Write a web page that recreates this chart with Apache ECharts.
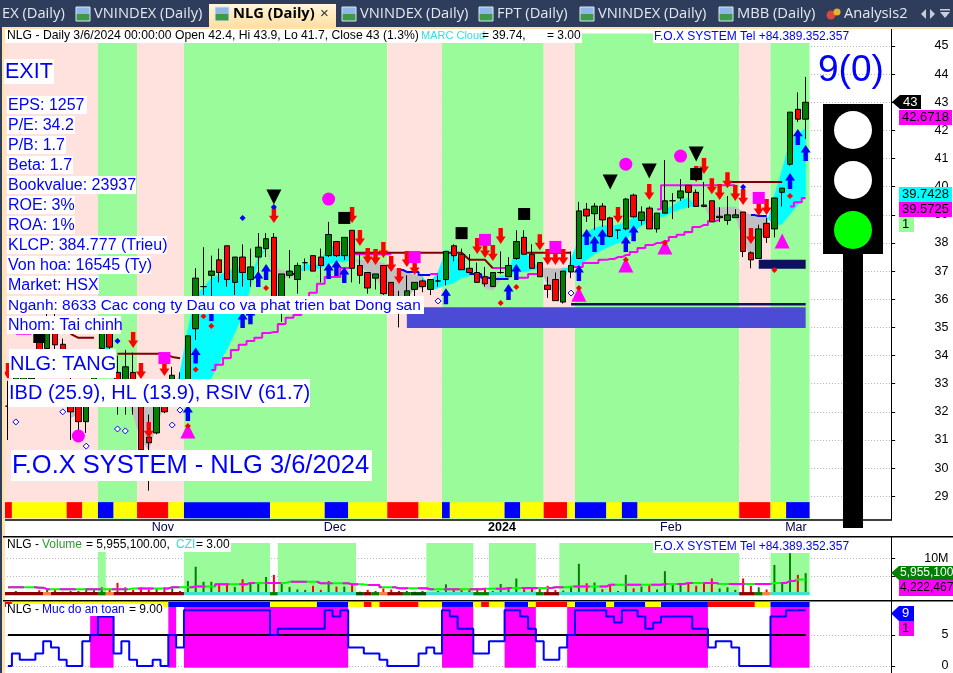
<!DOCTYPE html>
<html>
<head>
<meta charset="utf-8">
<style>html,body{margin:0;padding:0;background:#fff}#main{width:953px;height:673px}</style>
<script src="https://cdn.jsdelivr.net/npm/echarts@6/dist/echarts.min.js"></script>
</head>
<body>
<div id="main"></div>
<script>
// trading days per month, Oct 2023 to Mar 2024
var octDays = [6,9,10,11,12,13,16,17,18,19,20,23,24,25,26,27,30,31];
var novDays = [1,2,3,6,7,8,9,10,13,14,15,16,17,20,21,22,23,24,27,28,29,30];
var decDays = [1,4,5,6,7,8,11,12,13,14,15,18,19,20,21,22,25,26,27,28,29];
var janDays = [2,3,4,5,8,9,10,11,12,15,16,17,18,19,22,23,24,25,26,29,30,31];
var febDays = [1,2,5,6,7,15,16,19,20,21,22,23,26,27,28,29];
var marDays = [1,4,5,6];
var blankDays = ['','','','','','','','','','',''];
var monthLabels = {'11/1':'Nov','12/1':'Dec','1/2':'{b|2024}','2/1':'Feb','3/1':'Mar'};

var opens = [32.2,33,32.85,32.8,34.6,34.25,35.3,34.4,33,32.4,31.65,32.6,34.25,35.25,33.4,32.6,33.4,32.4,31.1,31.25,32.2,32.4,32.6,32.7,34.95,36.45,36.85,37.4,37.9,36.6,37.5,36.7,37.5,37.8,38.2,35.6,36.85,36.7,37.3,37.55,37.5,37.55,38.05,37.55,38.45,37.2,36.95,36.75,37.2,36.6,36,35.95,36.35,36.65,36.35,36.65,36.7,37.9,37.6,37.1,36.95,36.8,36.45,36.95,36.8,37.45,38.2,37.6,37.3,36.5,36.7,35.9,36.97,37.45,39.2,39.04,39.31,38.89,38.46,38.5,39.7,38.8,39.24,38.5,39.06,39.5,39.6,40.05,39.8,39.35,39.5,38.9,38.8,38.9,39.1,37.65,37.45,38.7,38.5,39.8,40.8,42.75,42.4];
var closes = [32.2,33.5,33.4,33.2,34.2,35.3,34.38,33.8,32,31.65,32.4,33.5,35.25,34.3,32.6,33.6,32.6,30.65,30.9,32.4,32,33.3,32.95,34.7,36.75,36.45,37,36.95,36.7,37.5,36.95,37.15,37.85,38.15,35.8,36.9,37,37.2,37.3,37,37.2,38.3,37.55,38.2,37.1,36.85,36.4,36.9,36.2,35.95,35.6,36.3,36.6,36.45,36.7,36.65,37.7,37.55,37.05,36.95,36.6,36.55,36.95,36.95,37.2,38.05,37.6,37.1,36.8,36.35,35.95,37,37.2,39.14,38.96,39.31,38.82,38.23,38.46,39.56,38.93,39.1,38.5,39.06,39.5,39.5,39.85,39.8,39.3,39.3,38.75,38.95,39,39,37.7,37.4,38.5,38.2,39.6,39.95,42.65,42.4,43];
var lows = [31,32.8,32.6,32.6,33.9,34,34.2,33.5,31,31.35,31.25,32.4,34,34.1,31.9,31.9,31.9,30.45,29.2,31.2,31.95,32.2,32.5,32.6,34.55,36.15,36,36.6,36.45,36.15,36.45,36.45,36.7,37.5,35.75,35.2,36.75,36.2,37,37,36.6,37.5,37.5,37.4,36.6,36.55,36.2,36.35,36.15,35.8,35,35.9,36.1,36.25,36.15,36.45,36.5,37.35,37.05,36.95,36.6,36.45,36.45,36.9,36.8,37.4,37.6,37.1,36.8,36.05,35.95,35.85,36.75,37.44,38.75,38.46,38.57,38.2,38.14,38.45,38.9,38.63,38.5,38.37,39.05,38.85,39.5,39.25,39.3,39.27,38.75,38.75,38.65,38.9,37.5,37.1,37.45,38,38.2,39.3,40.75,42.3,41.7];
var highs = [33.1,33.7,33.6,33.4,34.9,35.5,35.5,34.6,33.3,33,33,33.7,35.4,35.4,34,34.2,34.1,33,31.9,33,32.9,33.6,33.4,34.7,37.1,37.85,37.55,37.8,37.9,37.5,37.95,37.8,38.35,38.35,38.35,36.9,37.75,37.3,37.45,37.55,37.8,38.75,38.05,38.2,38.45,37.6,36.95,36.9,37.2,36.6,36.3,36.85,36.6,36.7,36.7,36.85,37.7,37.95,37.8,37.6,37.3,37.15,36.95,37.7,37.5,38.45,38.45,37.95,37.3,36.8,36.95,37,37.7,39.46,39.42,39.42,39.42,38.93,38.46,39.6,39.75,39.3,39.3,39.06,40.95,39.77,40.27,40.05,39.9,40.17,39.5,39.27,39.67,39.2,39.1,37.7,38.65,38.9,39.6,39.95,42.65,43.35,43.9];

// fast and slow edge of the MARC cloud, cyan where fast is above slow
var cloudFast = [null,null,null,null,null,null,null,null,31.78,31.92,null,null,35.26,34.91,null,32.6,31.88,31,30.64,31.53,32.24,32.49,33.42,34.91,36.15,36.4,36.76,36.86,36.97,37.11,37.04,36.79,37.47,37.86,37.04,36.79,36.76,36.86,37.33,37.11,37.33,37.97,37.75,37.68,37.47,37.22,36.97,36.76,36.33,36.12,35.98,35.98,36.4,36.4,36.62,36.97,37.75,37.64,37.22,36.94,36.76,36.4,36.33,36.69,36.97,37.82,37.75,37.33,37.11,36.51,36.08,36.51,37.47,38.11,38.39,38.53,38.61,38.61,38.64,38.75,38.89,38.96,38.96,39,39.18,39.32,39.53,39.6,39.32,39.32,38.82,38.85,38.89,38.96,38.11,37.47,37.93,38.64,39.67,40.6,41.66,41.84,42.09];
var cloudSlow = [null,null,null,null,null,null,null,null,32.42,32.42,null,null,34.27,34.2,null,32.78,32.6,32.6,32.6,32.6,32.6,32.6,33.13,32.78,32.78,32.95,33.2,33.74,34.23,34.8,35.44,36.44,37.33,37.82,37.11,37.04,36.97,36.97,37.04,37.04,37.11,37.25,37.33,37.33,37.4,37.4,37.36,37.33,37.29,37.11,37.04,36.97,36.86,36.83,36.33,36.4,36.51,36.58,36.76,36.83,36.86,36.83,36.79,36.83,36.83,36.97,36.97,37.04,37.08,37.11,37.08,37.11,37.11,37.18,37.4,37.61,37.75,37.89,38,38.11,38.39,38.61,38.75,38.89,38.96,39.1,39.21,39.28,39.32,39.32,39.25,39.25,39.28,39.28,39.1,39,38.96,38.93,38.61,38.68,39.03,39.35,39.71];

// indicator line segments as [bar, price]
var magentaSegments = [
  [[1,34.77],[2,34.77],[3,34.77]],
  [[26,33.49],[27,33.67],[28,33.91],[29,34.2],[30,34.38],[31,34.52],[32,34.63],[33,34.8],[34,34.84],[35,35.12],[36,35.34],[37,35.44],[38,35.98],[39,36.23],[40,36.55],[41,36.79],[42,36.79],[43,37.11],[44,37.18]],
  [[44,37.6],[45,37.6],[46,37.6],[47,37.6],[48,37.6],[49,37.6]],
  [[54,36.9],[55,36.9]],
  [[62,37.11],[63,37.11],[64,37.11]],
  [[65,36.76],[66,36.76],[67,36.9],[68,36.9]],
  [[72,37.15],[73,37.15],[74,37.29],[75,37.29],[76,37.4],[77,37.43],[78,37.5],[79,37.57],[80,37.68],[81,37.82],[82,37.93],[83,38],[84,38.07],[85,38.21],[86,38.29],[87,38.39],[88,38.57],[89,38.64],[90,38.78],[91,38.82]],
  [[83,39.2],[84,40.05],[85,40.05],[86,40.05],[87,40.05],[88,40.05],[89,40.05],[90,40.05],[91,40.05],[92,40.05],[93,40.05]],
  [[100,39.3],[101,39.45],[102,39.6]]
];
var blueSegments = [
  [[50,37.04],[51,36.97],[52,36.97],[53,36.86],[54,36.86]],
  [[59,36.9],[60,36.9],[61,36.76],[62,36.72],[63,36.72],[64,36.72]],
  [[95,38.99],[96,38.96],[97,38.96]]
];
var darkRedSegments = [
  [[8,34.77],[9,34.63],[10,34.63],[11,34.63]],
  [[14,34.06],[15,34.06],[16,34.06],[17,34.06],[18,34.06],[19,34.06],[20,34.06],[21,33.95],[22,33.9]],
  [[36,36.9],[37,36.9]],
  [[44,37.65],[45,37.65],[46,37.65],[47,37.65],[48,37.65],[49,37.65],[50,37.65],[51,37.65],[52,37.65],[53,37.65],[54,37.65],[55,37.65],[56,37.65],[57,37.65],[58,37.65],[59,37.4],[60,37.4],[61,37.4],[62,37.1]],
  [[66,37.65],[67,37.65],[68,37.65],[69,37.65],[70,37.65],[71,37.65],[72,37.65]],
  [[92,40.17],[93,40.17],[94,40.17],[95,40.17],[96,40.17],[97,40.17],[98,40.17],[99,40.17]]
];

// signal markers as [bar, price]
var blackTriangles = [[34,39.63],[77,40.17],[82,40.56],[88,41.16]];
var magentaCircles = [[41,39.56],[79,40.8],[86,41.09],[9,31.14]];
var blackSquares = [[43,38.89],[58,38.35],[66,39.03],[88,40.45],[4,34.66]];
var magentaSquares = [[52,37.5],[61,38.11],[70,37.86],[96,39.6],[20,33.91]];
var magentaTriangles = [[23,31.32],[73,36.18],[79,37.22],[84,37.86],[99,38.07]];
var hollowDiamonds = [[1,31.64],[7,32],[10,30.78],[14,31.39],[15,31.32],[21,31.53],[22,32.06],[55,35.94],[72,36.22]];
var blueDiamonds = [[30,38.89],[34,39.28],[14,34.52],[94,39.99]];
var redDiamonds = [[33,36.4],[25,35.4],[26,35.05],[24,33.5],[65,36.44],[63,35.87],[100,39.67],[73,36.4],[79,37.4],[84,38],[23,31.5],[98,37.04]];
var redArrows = [[34,38.99],[44,38.99],[45,38.18],[46,37.54],[47,37.5],[48,37.75],[49,37.25],[50,36.83],[51,37.43],[52,37.15],[60,37.89],[61,37.75],[62,37.64],[63,38.25],[68,38.03],[69,37.5],[70,37.5],[71,37.5],[78,38.99],[82,39.81],[88,40.45],[89,40.74],[90,40.02],[91,39.81],[92,40.23],[93,39.78],[94,39.63],[95,38.25],[96,39.24],[97,39.28],[16,34.55],[17,33.45],[20,33.56],[18,31.35],[0,33.45]];
var blueArrows = [[24,34],[32,36.72],[33,36.97],[30,35.26],[31,35.4],[26,35.51],[41,37],[42,37.11],[43,36.86],[56,36.11],[64,36.26],[65,36.97],[73,36.93],[74,38.21],[75,37.96],[76,38.21],[79,37.96],[80,38.35],[100,40.2],[101,41.77],[102,41.2],[23,31.96],[25,35.83],[27,35.83],[29,35.83]];

// [first bar, last bar, low price, high price, colour key]
var priceBlocks = [[51,102,34.98,35.72,'block'],[72,102,35.78,35.87,'navy'],[96,102,37.08,37.4,'navy']];
// zone and trend runs as [first bar, end bar, colour key]
var zoneRuns = [[0,12,'pink'],[12,17,'green'],[17,23,'pink'],[23,49,'green'],[49,56,'pink'],[56,69,'green'],[69,73,'pink'],[73,94,'green'],[94,98,'pink'],[98,103,'green']];
var trendRuns = [[0,1,'red'],[1,8,'yellow'],[8,10,'red'],[10,12,'yellow'],[12,14,'blue'],[14,17,'yellow'],[17,21,'red'],[21,23,'yellow'],[23,34,'blue'],[34,41,'yellow'],[41,44,'blue'],[44,49,'yellow'],[49,53,'red'],[53,56,'yellow'],[56,57,'blue'],[57,64,'yellow'],[64,66,'blue'],[66,69,'yellow'],[69,72,'red'],[72,73,'yellow'],[73,77,'blue'],[77,79,'yellow'],[79,81,'blue'],[81,94,'yellow'],[94,98,'red'],[98,100,'yellow'],[100,103,'blue']];

var volumes = [0.8,1.1,0.7,0.7,1.3,1.4,1.5,0.9,1.1,1.1,1.9,1.5,2.1,1.8,3.3,2.1,1.4,2.1,1.5,1.8,2.1,1.8,1.1,3.8,7.7,3.6,3.6,3.2,3.2,2.2,4.3,3,3.4,4.9,5.5,3,2.2,1.5,1.4,2.5,1.4,3.8,2.3,2.3,3.2,0.9,1.4,1.1,1.8,1.5,1.1,1.1,0.9,1.1,0.8,1.1,2.9,1.8,1.8,1.8,1.9,1.5,1.1,3,1.8,4.5,1.6,2.1,1.6,2.5,1.4,1.2,2.3,8.5,3.2,3.4,1.6,2.7,1.1,5.5,1.8,2.3,2.7,1.5,6.5,2.7,3.2,3.2,2.5,3.2,4.5,1.8,2.1,1.4,4.5,2.5,2.1,1.5,8.2,3.2,11.4,5.5,5.96];
var volumeAvg = [2.1,2.1,2.1,2.1,2,1.6,1.6,1.6,1.6,1.6,1.6,1.55,1.55,1.55,1.55,1.55,1.8,1.8,1.8,1.8,1.8,2.1,2.1,2.1,2.3,2.3,2.3,2.9,2.9,2.9,2.9,3.3,3.3,3.3,3.3,3.3,3.6,3.6,3.6,3.6,3.2,3.2,3.2,3.2,2.9,2.9,2.7,2.7,2.1,2.1,1.85,1.85,1.85,1.85,1.55,1.55,1.55,1.55,1.55,1.55,1.55,1.7,1.7,1.7,1.9,1.9,1.9,1.9,1.9,1.9,2.1,2.1,2.3,2.3,2.3,2.3,2.3,2.8,2.8,2.8,2.8,2.8,2.8,2.8,3,3,3,3.3,3.3,3.3,3.3,3,3,3,3,3,3,3,3.3,3.3,3.8,4.22,4.22];
var volumeZones = [[12,13],[23,34],[35,45],[54,60],[62,68],[71,94],[98,103]];
var volumeStrip = [[0,5,'darkred'],[5,6,'orange'],[6,12,'darkred'],[12,13,'dgreen'],[13,14,'orange'],[14,23,'darkred'],[23,34,'teal'],[34,35,'dgreen'],[35,45,'teal'],[45,46,'deep'],[46,47,'darkred'],[47,48,'dgreen'],[48,49,'orange'],[49,51,'darkred'],[51,52,'dgreen'],[52,54,'deep'],[54,60,'teal'],[60,62,'dgreen'],[62,68,'teal'],[68,69,'dgreen'],[69,71,'darkred'],[71,94,'teal'],[94,96,'darkred'],[96,97,'dgreen'],[97,98,'orange'],[98,103,'teal']];

var safety = [0,2,1,1,2,4,3,1,0,0,4,5,8,8,2,4,1,0,0,1,0,5,3,9,9,9,9,9,9,9,9,9,9,9,5,6,6,6,6,6,6,9,8,9,3,3,2,2,1,0,0,0,0,2,3,2,9,8,6,6,2,2,4,4,9,9,8,6,4,1,1,3,5,9,9,9,9,8,7,9,9,8,6,7,8,8,8,8,6,6,3,4,4,3,0,0,0,0,8,8,9,9,9];
var safeLevel = [5,5,5,5,5,5,5,5,5,5,5,5,5,5,5,5,5,5,5,5,5,5,5,5,5,5,5,5,5,5,5,5,5,5,5,5,5,5,5,5,5,5,5,5,5,5,5,5,5,5,5,5,5,5,5,5,5,5,5,5,5,5,5,5,5,5,5,5,5,5,5,5,5,5,5,5,5,5,5,5,5,5,5,5,5,5,5,5,5,5,5,5,5,5,5,5,5,5,5,5,5,5,5];
var safetyStrip = [[0,1,'red'],[1,21,'yellow'],[21,34,'blue'],[34,40,'yellow'],[40,44,'blue'],[44,46,'yellow'],[46,47,'red'],[47,48,'yellow'],[48,53,'red'],[53,56,'yellow'],[56,60,'blue'],[60,61,'yellow'],[61,62,'red'],[62,64,'yellow'],[64,67,'blue'],[67,68,'yellow'],[68,72,'red'],[72,73,'yellow'],[73,77,'blue'],[77,78,'yellow'],[78,82,'blue'],[82,84,'yellow'],[84,90,'blue'],[90,96,'red'],[96,98,'yellow'],[98,103,'blue']];

var priceTicks = [29,30,31,32,33,34,35,36,37,38,39,40,41,42,43,44,45];
var volumeTicks = [5,10];
var volumeLabels = [10];
var safetyTicks = [0,5];

var infoRows = ['EPS: 1257','P/E: 34.2','P/B: 1.7','Beta: 1.7','Bookvalue: 23937','ROE: 3%','ROA: 1%','KLCP: 384.777 (Trieu)','Von hoa: 16545 (Ty)','Market: HSX','Nganh: 8633 Cac cong ty Dau co va phat trien bat Dong san','Nhom: Tai chinh'];

var palette = {
  pink:'#FFE2DE', green:'#99FB99', red:'#FF0000', yellow:'#FFFF00', blue:'#0000FF',
  block:'#4B4BD6', navy:'#0E1160', darkred:'#8B0000', orange:'#FF8040', dgreen:'#008000', deep:'#005000', teal:'#40E0D0', magenta:'#FF00FF'
};
var FONT = '"Liberation Sans", Arial, sans-serif';

var categories = []
  .concat(octDays.map(function (d) { return '10/' + d; }))
  .concat(novDays.map(function (d) { return '11/' + d; }))
  .concat(decDays.map(function (d) { return '12/' + d; }))
  .concat(janDays.map(function (d) { return '1/' + d; }))
  .concat(febDays.map(function (d) { return '2/' + d; }))
  .concat(marDays.map(function (d) { return '3/' + d; }))
  .concat(blankDays);

var myChart = echarts.init(document.getElementById('main'), null, { renderer: 'canvas' });

// rectangle across whole bars (shift .5) or from bar centre to bar centre (shift 0)
function runItem(shift) {
  return function (params, api) {
    var band = api.size([1, 0])[0];
    var a = api.coord([api.value(0), api.value(3)]);
    var b = api.coord([api.value(1), api.value(2)]);
    return {
      type: 'rect',
      shape: { x: a[0] - band * shift, y: a[1], width: b[0] - a[0], height: b[1] - a[1] },
      style: { fill: palette[api.value(4)] }
    };
  };
}
function runSeries(runs, low, high, xi, z) {
  return {
    type: 'custom', xAxisIndex: xi, yAxisIndex: xi, z: z, silent: true, clip: false,
    encode: { x: [0, 1], y: [2, 3] },
    dimensions: [{ name: 'a', type: 'number' }, { name: 'b', type: 'number' }, { name: 'lo', type: 'number' }, { name: 'hi', type: 'number' }, { name: 'c', type: 'ordinal' }],
    renderItem: runItem(0.5),
    data: runs.map(function (r) { return [r[0], r[1], low, high, r[2]]; })
  };
}
function cloudItem(params, api) {
  var i = api.value(0);
  if (cloudFast[i] == null || cloudFast[i + 1] == null) return null;
  var up = cloudFast[i + 1] >= cloudSlow[i + 1];
  return {
    type: 'polygon',
    shape: { points: [
      api.coord([i, cloudFast[i]]), api.coord([i + 1, cloudFast[i + 1]]),
      api.coord([i + 1, cloudSlow[i + 1]]), api.coord([i, cloudSlow[i]])
    ] },
    style: { fill: up ? '#00FFFF' : '#C0C0C0', stroke: up ? '#00FFFF' : '#C0C0C0', lineWidth: 0.5 }
  };
}
function lineSeries(segments, color, step, xi) {
  return segments.map(function (seg) {
    return {
      type: 'line', data: seg, step: step, z: 3, silent: true, symbol: 'none',
      lineStyle: { color: color, width: 2 }, xAxisIndex: xi || 0, yAxisIndex: xi || 0
    };
  });
}
function markers(data, symbol, size, color, extra) {
  var s = {
    type: 'scatter', data: data, symbol: symbol, symbolSize: size, z: 5, silent: true,
    itemStyle: { color: color, opacity: 1 }
  };
  for (var k in extra) s[k] = extra[k];
  return s;
}
var arrowUp = 'path://M4.5 0 L9 7 L6.5 7 L6.5 15 L2.5 15 L2.5 7 L0 7 Z';
var arrowDown = 'path://M2.5 0 L6.5 0 L6.5 8 L9 8 L4.5 15 L0 8 L2.5 8 Z';

var series = [];
series.push(runSeries(zoneRuns, 28.2, 45.445, 0, 1));
series.push(runSeries(trendRuns, 28.22, 28.79, 0, 2));
series.push({
  type: 'custom', z: 2, silent: true, renderItem: cloudItem, encode: { x: 0, y: 1 },
  data: cloudFast.map(function (v, i) { return [i, v == null ? 40 : v]; })
});
series = series.concat(lineSeries(magentaSegments, palette.magenta, 'middle'));
series = series.concat(lineSeries(blueSegments, palette.blue, 'middle'));
series = series.concat(lineSeries(darkRedSegments, '#800000', false));
series.push({
  type: 'custom', z: 3, silent: true, clip: false, renderItem: runItem(0), encode: { x: [0, 1], y: [2, 3] },
  dimensions: [{ name: 'a', type: 'number' }, { name: 'b', type: 'number' }, { name: 'lo', type: 'number' }, { name: 'hi', type: 'number' }, { name: 'c', type: 'ordinal' }],
  data: priceBlocks
});
series.push({
  type: 'candlestick', z: 4, silent: true, barWidth: 6,
  data: opens.map(function (o, i) { return [o, closes[i], lows[i], highs[i]]; }),
  itemStyle: { color: '#008000', color0: '#FF0000', borderColor: '#000', borderColor0: '#000', borderColorDoji: '#000', borderWidth: 1 }
});
series.push(markers(redArrows, arrowDown, [10, 16], '#FF0000'));
series.push(markers(blueArrows, arrowUp, [10, 16], '#0000FF'));
series.push(markers(blackTriangles, 'triangle', [15, 15], '#000', { symbolRotate: 180 }));
series.push(markers(magentaCircles, 'circle', 13, palette.magenta));
series.push(markers(blackSquares, 'rect', 12, '#000'));
series.push(markers(magentaSquares, 'rect', 12, palette.magenta));
series.push(markers(magentaTriangles, 'triangle', [15, 15], palette.magenta));
series.push(markers(redDiamonds, 'diamond', 6, '#FF0000', { z: 6 }));
series.push(markers(blueDiamonds, 'diamond', 6, '#0000FF', { z: 6 }));
series.push({
  type: 'scatter', data: hollowDiamonds, symbol: 'diamond', symbolSize: 6, z: 6, silent: true,
  itemStyle: { color: '#fff', borderColor: '#0000FF', borderWidth: 1, opacity: 1 }
});

// volume pane
series.push(runSeries(volumeZones.map(function (r) { return [r[0], r[1], 'green']; }), 0, 14.17, 1, 1));
series.push({
  type: 'bar', xAxisIndex: 1, yAxisIndex: 1, z: 3, silent: true, barWidth: 2,
  data: volumes.map(function (v, i) {
    return { value: v, itemStyle: { color: closes[i] >= opens[i] ? '#008000' : '#FF0000' } };
  })
});
series.push(runSeries(volumeStrip, -0.1, 0.8, 1, 4));
series.push({ type: 'line', xAxisIndex: 1, yAxisIndex: 1, z: 5, silent: true, symbol: 'none', step: 'middle', data: volumeAvg, lineStyle: { color: '#00FF00', width: 2 } });
series.push({ type: 'line', xAxisIndex: 1, yAxisIndex: 1, z: 6, silent: true, symbol: 'none', step: 'middle', data: volumeAvg, lineStyle: { color: palette.magenta, width: 2, type: [16, 10] } });

// safety pane, filled wherever the level is 5 or more
var safeRuns = [];
safety.forEach(function (v, i) {
  if (v < 5) return;
  var last = safeRuns[safeRuns.length - 1];
  if (last && last[1] === i) last[1] = i + 1; else safeRuns.push([i, i + 1, 'magenta']);
});
series.push(runSeries(safeRuns, -0.27, 9.52, 2, 1));
series.push(runSeries(safetyStrip, 9.52, 10.32, 2, 2));
series.push({ type: 'line', xAxisIndex: 2, yAxisIndex: 2, z: 3, silent: true, symbol: 'none', data: safeLevel, lineStyle: { color: '#000', width: 2 } });
series.push({ type: 'line', xAxisIndex: 2, yAxisIndex: 2, z: 4, silent: true, symbol: 'none', step: 'middle', data: safety, lineStyle: { color: '#0000FF', width: 2 } });

function valueAxis(idx, min, max, ticks, labels, fmt) {
  return {
    type: 'value', gridIndex: idx, position: 'right', offset: -4.6, min: min, max: max, scale: true,
    axisLine: { show: true, onZero: false, lineStyle: { color: '#000', width: 1 } },
    axisTick: { show: true, length: 4, customValues: ticks, lineStyle: { color: '#000' } },
    axisLabel: { show: true, customValues: labels, formatter: fmt, align: 'right', margin: 57.5, color: '#000', fontSize: 12.5, fontFamily: FONT },
    splitLine: { show: true, lineStyle: { color: '#B0B0B0', type: [1, 2], width: 1 } }
  };
}
var grid = [
  { left: 4.1, width: 891.5, top: 28, height: 491.3 },
  { left: 4.1, width: 891.5, top: 537, height: 63 },
  { left: 4.1, width: 891.5, top: 601, height: 72 }
];
var xAxes = [
  {
    type: 'category', gridIndex: 0, data: categories, boundaryGap: true,
    axisLine: { onZero: false, lineStyle: { color: '#000', width: 1.5 } },
    axisTick: { alignWithLabel: true, length: 5, lineStyle: { color: '#000' }, interval: function (i, v) { return !!monthLabels[v]; } },
    axisLabel: {
      align: 'left', margin: 2, color: '#00004A', fontSize: 12.5, fontFamily: FONT, padding: [0, 0, 0, 3],
      interval: function (i, v) { return !!monthLabels[v]; },
      formatter: function (v) { return monthLabels[v] || ''; },
      rich: { b: { fontWeight: 'bold', color: '#000', fontSize: 12.5, fontFamily: FONT, padding: [0, 0, 0, 0] } }
    },
    splitLine: { show: false }
  },
  { type: 'category', gridIndex: 1, data: categories, show: false },
  { type: 'category', gridIndex: 2, data: categories, show: false }
];
var yAxes = [
  valueAxis(0, 28.18, 45.64, priceTicks, priceTicks),
  valueAxis(1, -1.36, 15.8, volumeTicks, volumeLabels, function (v) { return v + 'M'; }),
  valueAxis(2, -1.13, 10.48, safetyTicks, safetyTicks)
];

// annotation text and page furniture
function tb(x, y, text, size, color, bg, h, w) {
  return {
    type: 'group', z: 50, children: [
      { type: 'rect', shape: { x: x, y: y, width: w, height: h }, style: { fill: bg || '#fff' }, z: 50 },
      { type: 'text', x: x + 1, y: y + h / 2 + 0.5, z: 51, style: { text: text, fill: color, font: size + 'px ' + FONT, verticalAlign: 'middle', textAlign: 'left' } }
    ]
  };
}
function tag(x, y, w, h, text, fill, color, arrow, size) {
  var kids = [{ type: 'rect', z: 60, shape: { x: x, y: y, width: w, height: h }, style: { fill: fill } }];
  if (arrow) kids.push({ type: 'polygon', z: 60, shape: { points: [[x - 8, y + h / 2], [x, y], [x, y + h]] }, style: { fill: fill } });
  kids.push({ type: 'text', z: 61, x: x + (size ? 1 : 3), y: y + h / 2, style: { text: text, fill: color, font: (size || 13) + 'px ' + FONT, verticalAlign: 'middle', textAlign: 'left' } });
  return { type: 'group', z: 60, children: kids };
}
function rect(x, y, w, h, fill, z) {
  return { type: 'rect', z: z || 40, shape: { x: x, y: y, width: w, height: h }, style: { fill: fill } };
}
function tabText(x, text, bold) {
  return { type: 'text', z: 31, x: x, y: 14, style: { text: text, fill: bold ? '#000' : '#E4E8EE', font: (bold ? 'bold ' : '') + '14.7px "Open Sans", ' + FONT, verticalAlign: 'middle', textAlign: 'left' } };
}
function tabIcon(x) {
  return { type: 'group', z: 31, children: [
    rect(x, 7, 14, 7, '#8FB8E8', 31), rect(x, 14, 14, 7, '#3E9A4A', 31),
    { type: 'rect', z: 32, shape: { x: x, y: 7, width: 14, height: 14 }, style: { fill: 'none', stroke: '#DDE6F2', lineWidth: 1 } }
  ] };
}
function plain(x, y, text, color, size) {
  return { type: 'text', z: 51, x: x, y: y, style: { text: text, fill: color, font: (size || 12) + 'px ' + FONT, verticalAlign: 'middle' } };
}

var graphics = [
  rect(0, 0, 953, 27, '#2D3D5B', 30),
  rect(0, 27, 953, 2, '#FFE3A8', 30),
  rect(0, 27, 2, 646, '#2D3D5B', 30),
  rect(2, 27, 3, 646, '#FFE3A8', 30),
  { type: 'rect', z: 30, shape: { x: 209, y: 4, width: 127, height: 23 }, style: { fill: new echarts.graphic.LinearGradient(0, 0, 0, 1, [{ offset: 0, color: '#FFF6DC' }, { offset: 1, color: '#FFDFA0' }]) } },
  tabText(2, 'EX (Daily)'), tabIcon(76), tabText(94, 'VNINDEX (Daily)'),
  tabIcon(215), tabText(233, 'NLG (Daily)', true),
  { type: 'text', z: 31, x: 320, y: 14, style: { text: '\u00d7', fill: '#333', font: '15px ' + FONT, verticalAlign: 'middle' } },
  tabIcon(342), tabText(360, 'VNINDEX (Daily)'),
  tabIcon(479), tabText(497, 'FPT (Daily)'),
  tabIcon(580), tabText(598, 'VNINDEX (Daily)'),
  tabIcon(719), tabText(737, 'MBB (Daily)'),
  { type: 'circle', z: 31, shape: { cx: 831, cy: 15, r: 4.5 }, style: { fill: '#D9483B' } },
  { type: 'circle', z: 31, shape: { cx: 837, cy: 12, r: 3.5 }, style: { fill: '#E8B030' } },
  tabText(844, 'Analysis2'),
  { type: 'polygon', z: 31, shape: { points: [[921, 14], [926, 9], [926, 19]] }, style: { fill: '#C8CED8' } },
  { type: 'polygon', z: 31, shape: { points: [[935, 14], [930, 9], [930, 19]] }, style: { fill: '#C8CED8' } },
  { type: 'polygon', z: 31, shape: { points: [[940, 12], [950, 12], [945, 18]] }, style: { fill: '#C8CED8' } },
  rect(940, 9, 10, 1.5, '#C8CED8', 31),

  // pane separators, and the stub of the date axis past the price axis
  rect(3, 536, 950, 1.5, '#000', 45),
  rect(3, 600, 950, 1.5, '#000', 45),
  rect(892, 517, 6, 4, '#fff', 45),

  // main pane header
  rect(5, 29, 577, 14, '#fff', 50),
  plain(7, 36, 'NLG - Daily 3/6/2024 00:00:00 Open 42.4, Hi 43.9, Lo 41.7, Close 43 (1.3%)', '#000', 12.2),
  plain(421, 36, 'MARC Cloud', '#30E0E0', 11),
  plain(482, 36, '= 39.74,', '#000'),
  plain(547, 36, '= 3.00', '#000'),
  tb(653, 29, 'F.O.X SYSTEM Tel +84.389.352.357', 12, '#0000FF', '#fff', 14, 196),

  tb(4, 59, 'EXIT', 21.5, '#0000FF', '#fff', 25, 50),
  tb(9, 349, 'NLG: TANG', 20, '#0000FF', '#fff', 29, 107),
  tb(8, 379, 'IBD (25.9), HL (13.9), RSIV (61.7)', 20, '#0000FF', '#fff', 28, 302),
  tb(11, 450, 'F.O.X SYSTEM - NLG 3/6/2024', 25.5, '#0000FF', '#fff', 31, 361),

  plain(818, 71, '9(0)', '#0000FF', 37),

  // traffic light
  rect(823, 104, 60, 150, '#000', 45),
  rect(843, 254, 20, 274, '#000', 45),
  { type: 'circle', z: 46, shape: { cx: 853, cy: 130, r: 19 }, style: { fill: '#fff' } },
  { type: 'circle', z: 46, shape: { cx: 853, cy: 180, r: 19 }, style: { fill: '#fff' } },
  { type: 'circle', z: 46, shape: { cx: 853, cy: 230, r: 19 }, style: { fill: '#00FF00' } },

  // value tags
  tag(900, 95, 21, 14, '43', '#000', '#fff', true),
  tag(899, 110, 53, 15, '42.6718', palette.magenta, '#000'),
  tag(899, 187, 53, 15, '39.7428', '#00FFFF', '#000'),
  tag(899, 202, 53, 15, '39.5725', palette.magenta, '#000'),
  tag(899, 217, 15, 15, '1', palette.green, '#000'),
  tag(899, 566, 54, 14, '5,955,100', '#008000', '#fff', true, 12),
  tag(899, 580, 54, 16, '4,222,467', palette.magenta, '#000', false, 12),
  tag(899, 606, 15, 15, '9', '#0000FF', '#fff', true),
  tag(899, 621, 15, 15, '1', palette.magenta, '#000'),

  // lower pane titles
  rect(5, 538, 226, 14, '#fff', 50),
  plain(7, 545, 'NLG - ', '#000'),
  plain(42, 545, 'Volume', '#2A9D2A'),
  plain(86, 545, '= 5,955,100.00,', '#000'),
  plain(176, 545, 'CZI', '#30E0E0'),
  plain(196, 545, '= 3.00', '#000'),
  tb(653, 539, 'F.O.X SYSTEM Tel +84.389.352.357', 12, '#0000FF', '#fff', 14, 196),
  rect(6, 604, 157, 12, '#fff', 50),
  plain(7, 610, 'NLG - ', '#000'),
  plain(42, 610, 'Muc do an toan', '#0000FF'),
  plain(129, 610, '= 9.00', '#000')
];
infoRows.forEach(function (t, i) {
  var widths = [80, 68, 59, 66, 129, 68, 68, 160, 144, 92, 417, 114];
  graphics.push(tb(7, 96 + i * 20, t, i === 10 ? 15.45 : 16, '#0000FF', '#fff', 18, widths[i]));
});

var option = {
  animation: false,
  backgroundColor: '#fff',
  textStyle: { fontFamily: FONT },
  grid: grid,
  xAxis: xAxes,
  yAxis: yAxes,
  series: series,
  graphic: { elements: graphics }
};

myChart.setOption(option);
</script>
</body>
</html>
